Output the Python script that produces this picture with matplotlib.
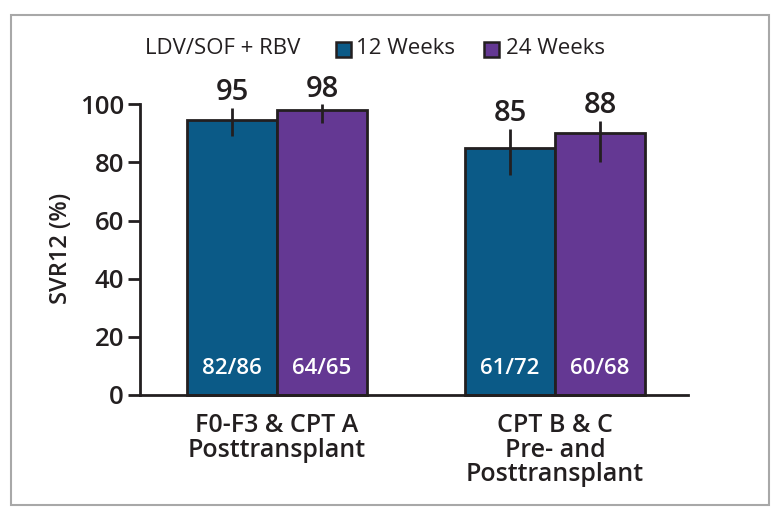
import matplotlib.pyplot as plt
from matplotlib.patches import Rectangle

plt.rcParams['font.family'] = ['Open Sans', 'DejaVu Sans']

groups = ['F0-F3 & CPT A\nPosttransplant', 'CPT B & C\nPre- and\nPosttransplant']
series = ['12 Weeks', '24 Weeks']
heights = [[94.5, 85], [98, 90]]
value_labels = [['95', '85'], ['98', '88']]
err_low = [[89, 75.7], [93.5, 80]]
err_high = [[98.7, 91.5], [100, 94.3]]
counts = [['82/86', '61/72'], ['64/65', '60/68']]
colors = ['#0b5a87', '#643893']
edge = '#231f20'

W, H = 775, 517
fig = plt.figure(figsize=(W / 100, H / 100), dpi=100)


def fx(px):
    return px / W


def fy(py):
    return 1 - py / H


# frame round the figure
fig.patches.append(Rectangle((fx(11), fy(505)), fx(758), (505 - 15) / H,
                             transform=fig.transFigure, fill=False,
                             edgecolor='#a8a8a8', lw=1.5))

ax = fig.add_axes([fx(140), fy(395), fx(548), (395 - 104.3) / H])

width = 0.3237
x = [0, 1]
for i, name in enumerate(series):
    pos = [g - width / 2 + i * width for g in x]
    ax.bar(pos, heights[i], width=width, color=colors[i], edgecolor=edge,
           linewidth=2, zorder=2, clip_on=False)
    ax.vlines(pos, err_low[i], err_high[i], color=edge, lw=2, zorder=3,
              clip_on=False)
    for p, hi, lab, cnt in zip(pos, err_high[i], value_labels[i], counts[i]):
        ax.text(p, hi + 0.2, lab, ha='center', va='bottom', fontsize=21,
                fontweight='semibold', color=edge, clip_on=False)
        ax.text(p, 9, cnt, ha='center', va='center', fontsize=16,
                fontweight='semibold', color='white', zorder=4)

ax.set_xlim(-0.4928, 1.4784)
ax.set_ylim(0, 100)
ax.set_yticks(range(0, 101, 20))
ax.tick_params(axis='y', length=8.5, width=2, labelsize=18.5, pad=3,
               colors=edge)
for lab in ax.get_yticklabels():
    lab.set_fontweight('semibold')
ax.set_xticks(x)
ax.set_xticklabels(groups, fontsize=18, fontweight='semibold',
                   linespacing=0.98, color=edge)
ax.tick_params(axis='x', length=0, pad=13)
for s in ['top', 'right']:
    ax.spines[s].set_visible(False)
for s in ['left', 'bottom']:
    ax.spines[s].set_linewidth(2)
    ax.spines[s].set_color(edge)

fig.text(fx(61), fy(248), 'SVR12 (%)', rotation=90, ha='center',
         va='center', fontsize=17, fontweight='semibold', color=edge)

# legend row
fig.text(fx(145), fy(49), 'LDV/SOF + RBV', ha='left', va='center',
         fontsize=16, fontweight='medium', color=edge)
for sq_x, txt_x, c, name in zip([336, 484], [356, 506], colors, series):
    fig.patches.append(Rectangle((fx(sq_x), fy(57)), fx(15), 15 / H,
                                 transform=fig.transFigure, facecolor=c,
                                 edgecolor=edge, lw=1.8))
    fig.text(fx(txt_x), fy(49), name, ha='left', va='center', fontsize=16,
             fontweight='medium', color=edge)

fig.savefig('out.png', dpi=100)
